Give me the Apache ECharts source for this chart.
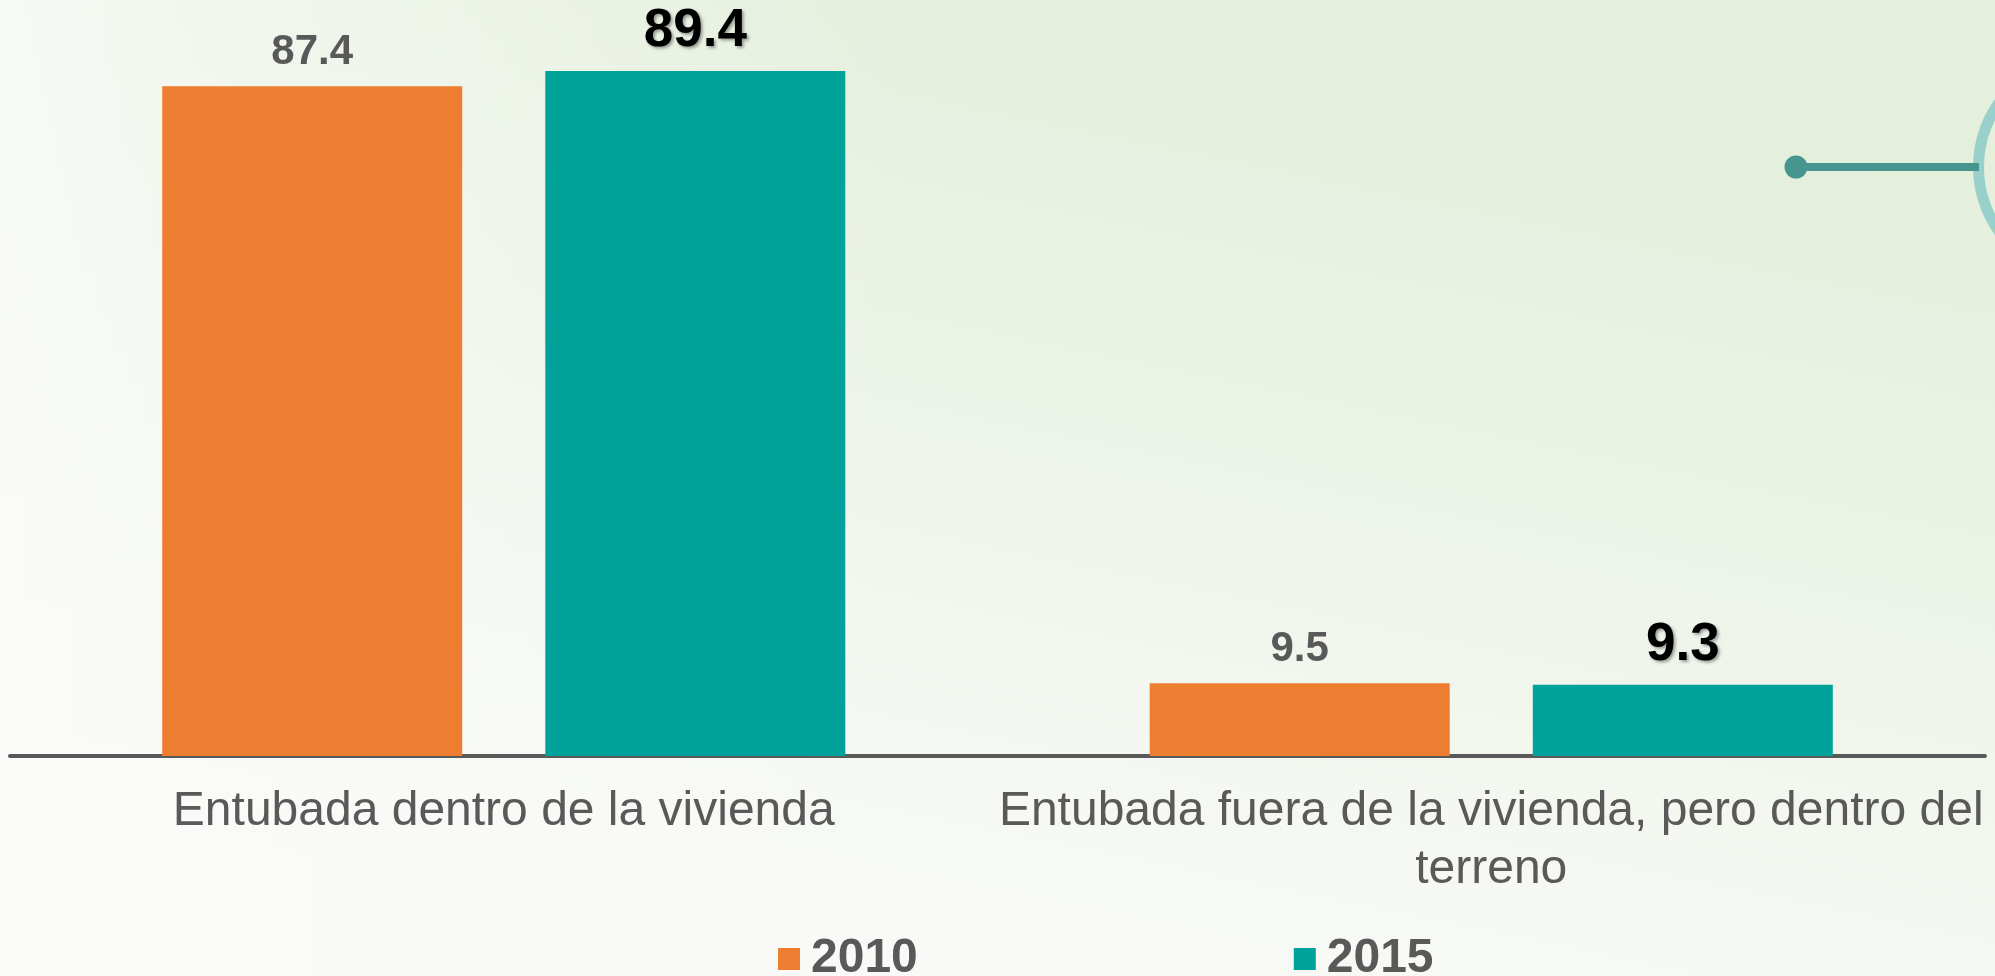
<!DOCTYPE html>
<html>
<head>
<meta charset="utf-8">
<title>Disponibilidad de agua entubada</title>
<script src="https://cdn.jsdelivr.net/npm/echarts@6/dist/echarts.min.js"></script>
<style>
  html, body { margin: 0; padding: 0; width: 1995px; height: 976px; overflow: hidden; }
  #chart { width: 1995px; height: 976px; }
</style>
</head>
<body>
<div id="chart"></div>
<script>
// Categories of water availability (second label wraps onto two lines)
const categories = [
  'Entubada dentro de la vivienda',
  'Entubada fuera de la vivienda, pero dentro del\nterreno'
];
// Percent of dwellings per year
const values2010 = [87.4, 9.5];
const values2015 = [89.4, 9.3];
const seriesNames = ['2010', '2015'];

const FONT = '"Liberation Sans", Arial, sans-serif';
const GREY = '#595959';
const ORANGE = '#ED7D31';
const TEAL = '#00A29A';

const chart = echarts.init(document.getElementById('chart'), null, { renderer: 'canvas' });

chart.setOption({
  // Pale green wash, deepest along the top and fading to near white below the axis
  backgroundColor: {
    type: 'linear', x: 0.45, y: 1, x2: 0.55, y2: 0,
    colorStops: [
      { offset: 0, color: '#f9faf7' },
      { offset: 0.25, color: '#f5f8f2' },
      { offset: 0.55, color: '#edf4e9' },
      { offset: 1, color: '#e4efdc' }
    ]
  },
  animation: false,
  grid: { left: 10, right: 10, top: 5, bottom: 220, containLabel: false },
  legend: {
    data: seriesNames,
    left: 773,
    top: 930,
    icon: 'rect',
    itemWidth: 22,
    itemHeight: 22,
    itemGap: 376,
    textStyle: {
      fontFamily: FONT, fontSize: 48, fontWeight: 'bold', color: GREY,
      padding: [0, 0, 0, 6]
    }
  },
  xAxis: {
    type: 'category',
    data: categories,
    axisTick: { show: false },
    axisLine: { lineStyle: { color: GREY, width: 4 } },
    axisLabel: {
      interval: 0,
      margin: 27,
      fontFamily: FONT,
      fontSize: 48,
      lineHeight: 58,
      color: GREY,
      align: 'center'
    }
  },
  yAxis: {
    type: 'value',
    min: 0,
    max: 98,
    show: false,
    splitLine: { show: false }
  },
  series: [
    {
      name: seriesNames[0],
      type: 'bar',
      data: values2010,
      barWidth: 300,
      barGap: '27.7%',
      itemStyle: { color: ORANGE },
      label: {
        show: true,
        position: 'top',
        distance: 13,
        fontFamily: FONT,
        fontSize: 42,
        lineHeight: 42,
        fontWeight: 'bold',
        color: GREY
      }
    },
    {
      name: seriesNames[1],
      type: 'bar',
      data: values2015,
      barWidth: 300,
      barGap: '27.7%',
      itemStyle: { color: TEAL },
      label: {
        show: true,
        position: 'top',
        distance: 13,
        fontFamily: FONT,
        fontSize: 53,
        lineHeight: 53,
        fontWeight: 'bold',
        color: '#000000',
        textShadowColor: 'rgba(0,0,0,0.35)',
        textShadowBlur: 3,
        textShadowOffsetX: 2,
        textShadowOffsetY: 2
      }
    }
  ],
  graphic: [
    // Lighter strip along the left side of the wash
    {
      type: 'rect',
      z: -10,
      silent: true,
      shape: { x: 0, y: 0, width: 900, height: 976 },
      style: {
        fill: {
          type: 'linear', x: 0, y: 0, x2: 1, y2: 0,
          colorStops: [
            { offset: 0, color: 'rgba(250,251,248,0.85)' },
            { offset: 0.2, color: 'rgba(250,251,248,0.55)' },
            { offset: 1, color: 'rgba(250,251,248,0)' }
          ]
        }
      }
    },
    // Decorative pin: dot, connector and ring at the right edge
    {
      type: 'circle',
      shape: { cx: 2089, cy: 167, r: 110.5 },
      style: { fill: 'none', stroke: '#99D0CC', lineWidth: 11 },
      silent: true
    },
    {
      type: 'line',
      shape: { x1: 1796, y1: 167, x2: 1979, y2: 167 },
      style: { stroke: '#46958F', lineWidth: 8 },
      silent: true
    },
    {
      type: 'circle',
      shape: { cx: 1796, cy: 167, r: 11.5 },
      style: { fill: '#46958F' },
      silent: true
    }
  ]
});
</script>
</body>
</html>
